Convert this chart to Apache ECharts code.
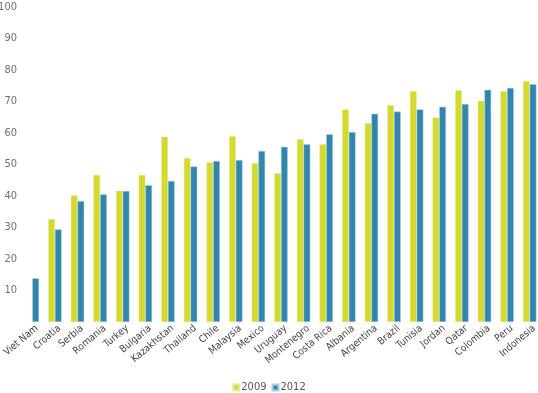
<!DOCTYPE html>
<html>
<head>
<meta charset="utf-8">
<script src="https://cdn.jsdelivr.net/npm/echarts@6/dist/echarts.min.js"></script>
<style>
html,body{margin:0;padding:0;background:#fff;}
#c{width:538px;height:393px;}
</style>
</head>
<body>
<div id="c"></div>
<script>
const categories = ["Viet Nam","Croatia","Serbia","Romania","Turkey","Bulgaria","Kazakhstan","Thailand","Chile","Malaysia","Mexico","Uruguay","Montenegro","Costa Rica","Albania","Argentina","Brazil","Tunisia","Jordan","Qatar","Colombia","Peru","Indonesia"];
const values2009 = [null,32.7,40.2,46.7,41.7,46.7,58.8,52.1,50.7,59.0,50.5,47.2,58.1,56.4,67.5,63.2,68.8,73.3,64.9,73.6,70.2,73.3,76.5];
const values2012 = [13.9,29.4,38.4,40.5,41.6,43.4,44.8,49.4,51.1,51.4,54.3,55.6,56.4,59.6,60.3,66.1,66.8,67.5,68.3,69.2,73.7,74.3,75.5];
const seriesNames = ["2009","2012"];
const yMin = 0, yMax = 100, yStep = 10;

const FONT = '"Liberation Sans Narrow","DejaVu Sans Condensed","Liberation Sans",sans-serif';
const chart = echarts.init(document.getElementById('c'));
chart.setOption({
  animation: false,
  textStyle: {fontFamily: FONT},
  grid: {left: 21, right: -3, top: 7, bottom: 71, containLabel: false, outerBoundsMode: 'none'},
  legend: {
    bottom: -5, left: 'center',
    itemWidth: 6, itemHeight: 6, itemGap: 5,
    icon: 'rect',
    textStyle: {fontFamily: FONT, fontSize: 11, color: '#555', padding: [0,0,0,-3]},
    data: seriesNames
  },
  xAxis: {
    type: 'category',
    data: categories,
    axisLine: {show: false},
    axisTick: {show: false},
    axisLabel: {interval: 0, rotate: 40, fontSize: 10, color: '#444', margin: 9, padding: [0,-6,0,0], fontFamily: FONT}
  },
  yAxis: {
    type: 'value', min: yMin, max: yMax, interval: yStep,
    splitLine: {show: false},
    axisLine: {show: false},
    axisTick: {show: false},
    axisLabel: {showMinLabel: false, fontSize: 11, color: '#707070', margin: 4, fontFamily: FONT}
  },
  series: [
    {name: seriesNames[0], type: 'bar', data: values2009, barWidth: 6.7, barGap: '0%',
     itemStyle: {color: '#d4d92e', borderColor: '#e8ea9a', borderWidth: 0.5}},
    {name: seriesNames[1], type: 'bar', data: values2012, barWidth: 6.7, barGap: '0%',
     itemStyle: {color: '#3286ae', borderColor: '#a9d0e2', borderWidth: 0.5}}
  ]
});
</script>
</body>
</html>
